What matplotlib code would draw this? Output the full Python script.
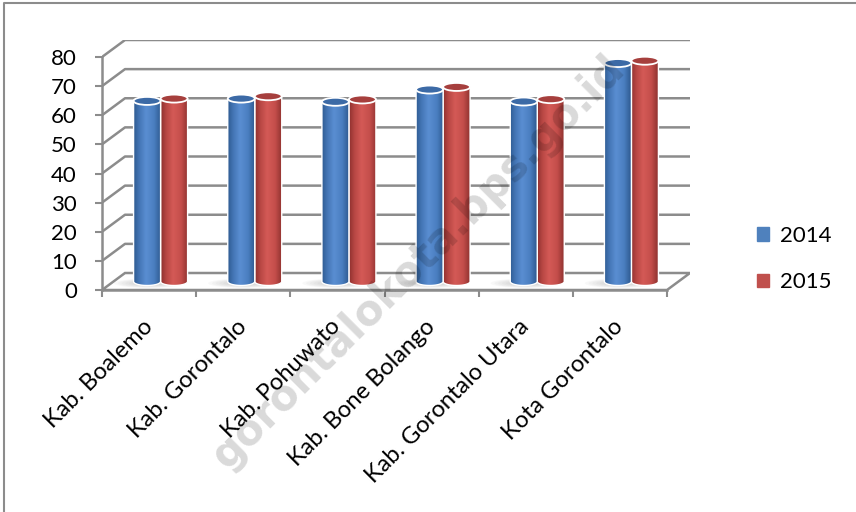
import numpy as np
import matplotlib.pyplot as plt
from matplotlib.patches import Ellipse, Polygon, PathPatch, Patch
from matplotlib.path import Path
from matplotlib.colors import LinearSegmentedColormap
from matplotlib.lines import Line2D

plt.rcParams['font.family'] = ['Lato', 'DejaVu Sans']

regions = ['Kab. Boalemo', 'Kab. Gorontalo', 'Kab. Pohuwato',
           'Kab. Bone Bolango', 'Kab. Gorontalo Utara', 'Kota Gorontalo']
years = ['2014', '2015']
val_2014 = [62.0, 62.8, 61.7, 65.9, 61.8, 75.0]
val_2015 = [62.8, 63.6, 62.5, 66.8, 62.6, 75.8]
yticks = list(range(0, 81, 10))

W, H = 856, 512
grid_col = '#8c8c8c'

fig = plt.figure(figsize=(W / 100, H / 100), dpi=100)

# front plane: 6 categories over 565 px, 80 units over 233 px
n = len(regions)
px_cat = 565 / n
px_unit = 233 / 80
ddx = 23 / px_cat      # depth offset of the back wall, in data units
ddy = 17 / px_unit
ytop = 80 + ddy
ax = fig.add_axes([102 / W, 1 - 290 / H, (565 + 23) / W, ytop * px_unit / H])

# back wall gridlines and side wall diagonals
for v in yticks[1:]:
    ax.plot([-0.5, -0.5 + ddx, n - 0.5 + ddx], [v, v + ddy, v + ddy],
            color=grid_col, lw=1.8, zorder=1, solid_capstyle='butt')

# floor
floor = Polygon([(-0.5, 0), (-0.5 + ddx, ddy), (n - 0.5 + ddx, ddy), (n - 0.5, 0)],
                closed=True, fc='white', ec=grid_col, lw=1.8, zorder=1)
ax.add_patch(floor)

blue_cmap = LinearSegmentedColormap.from_list(
    'b', [(0, '#2f5b92'), (0.2, '#4476b6'), (0.45, '#5a8ed2'), (0.75, '#4a7ec0'), (1, '#2e5a90')])
red_cmap = LinearSegmentedColormap.from_list(
    'r', [(0, '#8e302e'), (0.2, '#b84744'), (0.45, '#d45a56'), (0.75, '#c44e4b'), (1, '#903230')])
grad = np.linspace(0, 1, 256).reshape(1, -1)

w = 27 / px_cat
eh = 8 / px_unit
base = ddy / 2


def cylinder(xc, value, cmap, top_color, z):
    x0, x1 = xc - w / 2, xc + w / 2
    top = base + value
    t = np.linspace(np.pi, 2 * np.pi, 40)
    verts = [(x0, top)] + list(zip(xc + w / 2 * np.cos(t), base + eh / 2 * np.sin(t))) + [(x1, top), (x0, top)]
    path = Path(verts, closed=True)
    im = ax.imshow(grad, cmap=cmap, extent=(x0, x1, base - eh / 2, top),
                   aspect='auto', interpolation='bicubic', zorder=z)
    im.set_clip_path(PathPatch(path, transform=ax.transData))
    ax.add_patch(PathPatch(path, fc='none', ec='white', lw=1.0, zorder=z + 0.1))
    ax.add_patch(Ellipse((xc, top), w, eh, fc=top_color, ec='white', lw=1.3, zorder=z + 0.2))


for i in range(n):
    pc = i + ddx / 2
    # soft shadow on the floor
    for k in range(6):
        ax.add_patch(Ellipse((pc - 0.12, base - 0.6), 0.75 - k * 0.08, 3.2 - k * 0.35,
                             fc='#808080', ec='none', alpha=0.05, zorder=2))
    cylinder(pc + w / 2, val_2015[i], red_cmap, '#a63f3d', 3)
    cylinder(pc - w / 2, val_2014[i], blue_cmap, '#3c6aa6', 4)

ax.set_xlim(-0.5, n - 0.5 + ddx)
ax.set_ylim(0, ytop)

for s in ['top', 'right']:
    ax.spines[s].set_visible(False)
ax.spines['left'].set_bounds(0, 80)
ax.spines['bottom'].set_bounds(-0.5, n - 0.5)
for s in ['left', 'bottom']:
    ax.spines[s].set_color(grid_col)
    ax.spines[s].set_linewidth(1.8)
ax.spines['bottom'].set_zorder(1.5)

ax.set_yticks(yticks)
ax.tick_params(axis='y', length=5, width=1.5, color=grid_col, pad=13, labelsize=16)
ax.set_xticks(np.arange(n + 1) - 0.5)
ax.set_xticklabels([])
ax.set_xticks(np.arange(n), minor=True)
ax.set_xticklabels(regions, minor=True, rotation=45, ha='right', va='center',
                   rotation_mode='anchor', fontsize=17)
ax.tick_params(axis='x', which='major', length=5, width=1.5, color=grid_col)
ax.tick_params(axis='x', which='minor', length=0, pad=24)

fig.legend(handles=[Patch(color='#4f81bd', label=years[0]), Patch(color='#c0504d', label=years[1])],
           loc='center left', bbox_to_anchor=(737 / W, 1 - 259 / H), frameon=False,
           handlelength=0.55, handleheight=0.55, handletextpad=0.5, labelspacing=1.2, fontsize=16)

fig.text(418 / W, 1 - 262 / H, 'gorontalokota.bps.go.id', rotation=45, rotation_mode='anchor',
         ha='center', va='center', fontsize=30, fontweight='bold', family='DejaVu Sans',
         color='black', alpha=0.15, zorder=10)

fig.add_artist(Line2D([4 / W, 4 / W, 1], [0, 1 - 3 / H, 1 - 3 / H], transform=fig.transFigure,
                      color='#8c8c8c', lw=1.5))

fig.savefig('out.png', dpi=100)
